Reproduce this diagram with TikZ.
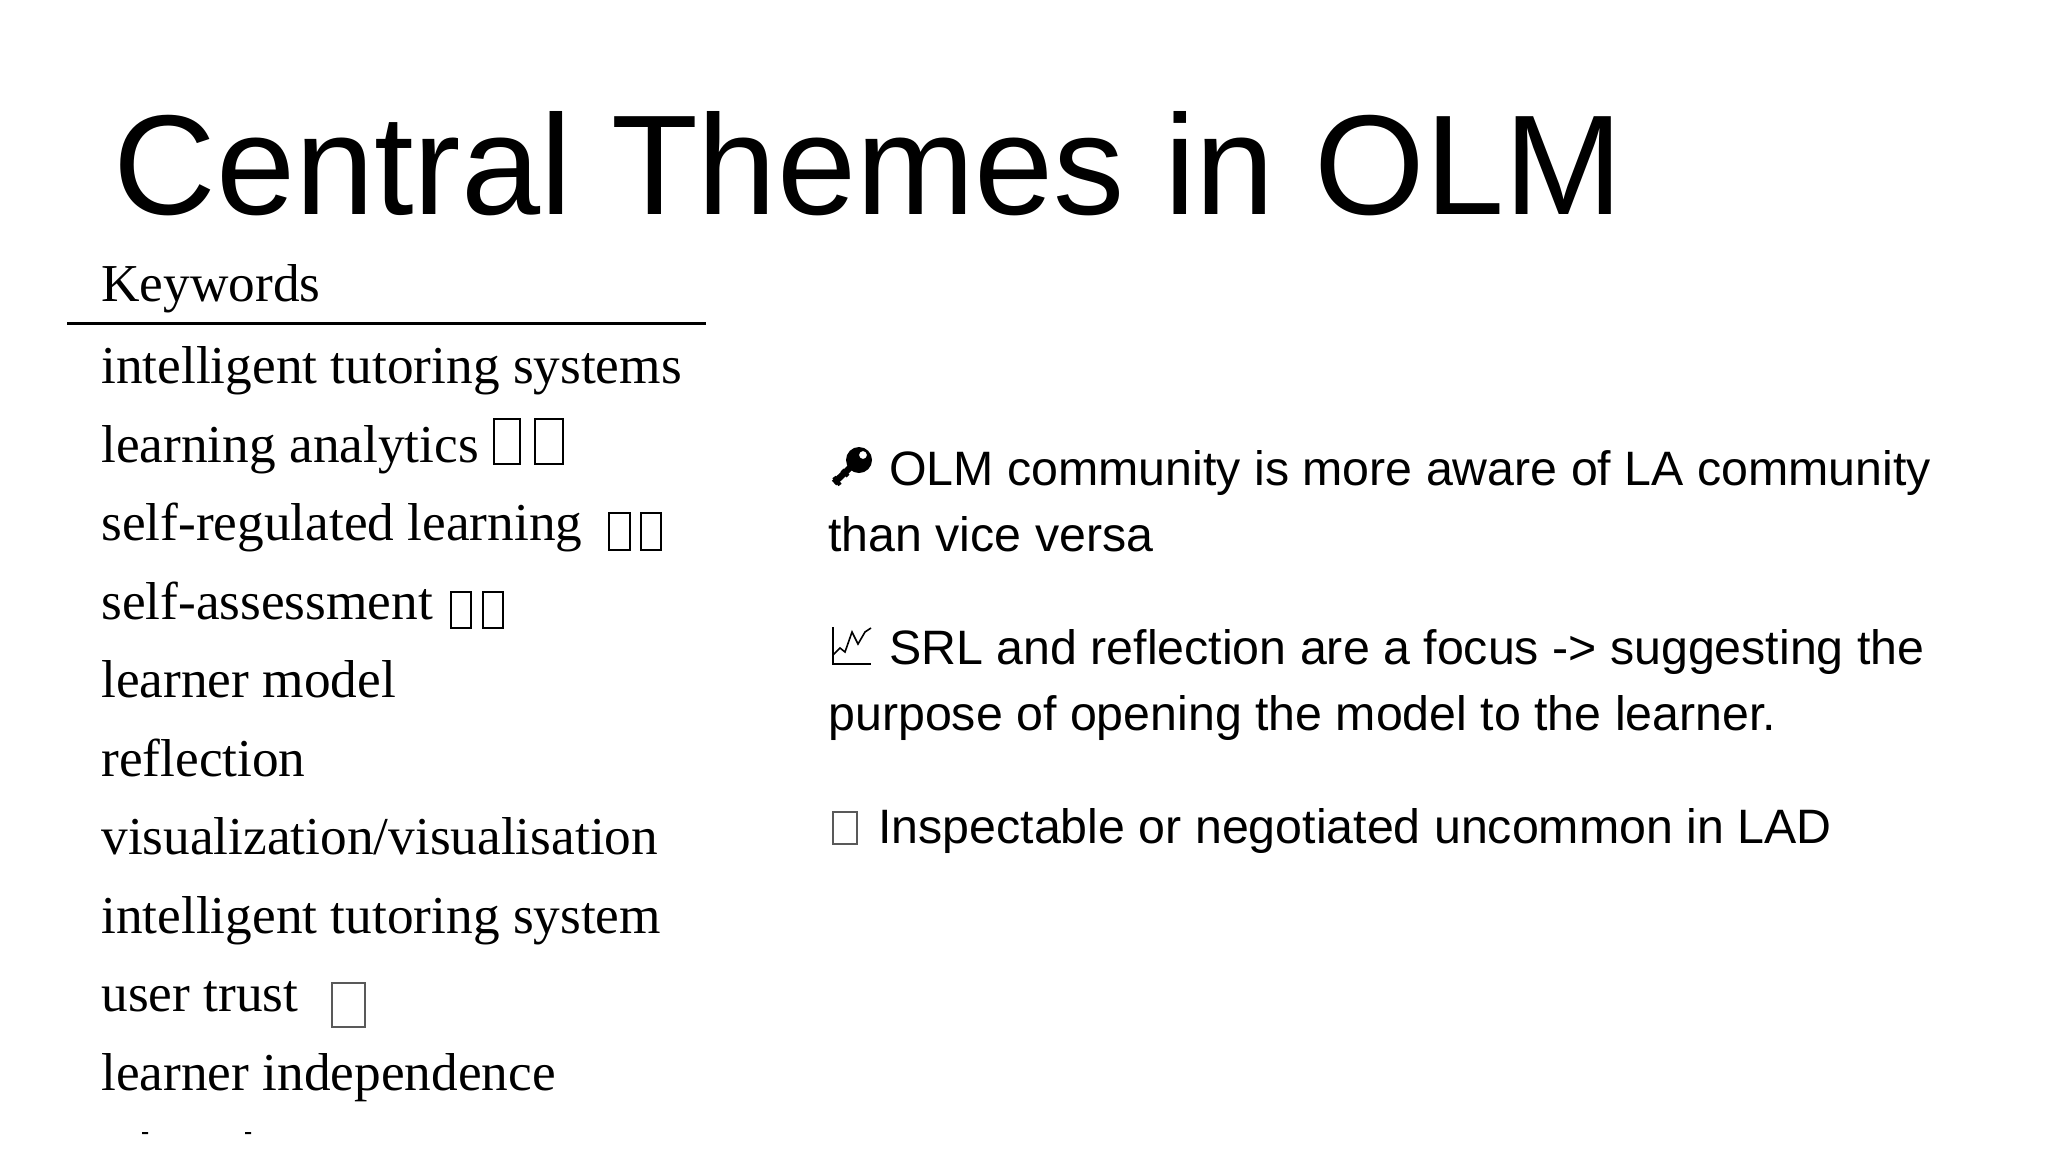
\documentclass[tikz,border=0pt]{standalone}
\usepackage{fontspec}
\setmainfont{Liberation Sans}
\newfontfamily\listfont{Liberation Serif}
\begin{document}
\begin{tikzpicture}[x=.5pt,y=-.5pt]
	\tikzset{
		title/.style={anchor=base west,inner sep=0pt,font=\fontsize{71.1}{72}\selectfont},
		keyword/.style={anchor=base west,inner sep=0pt,font=\listfont\fontsize{26.65}{27}\selectfont},
		note/.style={anchor=base west,inner sep=0pt,font=\fontsize{24.15}{25}\selectfont},
		glyphbox/.style={draw=black,line width=1.1pt},
		thinbox/.style={draw=black!65,line width=.6pt}
	}
	\useasboundingbox (0,0) rectangle (2048,1152);
	% title
	\node[title] (heading) at (113,214) {Central Themes in OLM};
	% keyword list
	\node[keyword] (keywords) at (101,301) {Keywords};
	\draw[line width=1.5pt] (67,323) -- (706,323);
	\foreach \y/\name/\word in {383.5/its/intelligent tutoring systems,462.5/la/learning analytics,540.5/srl/self-regulated learning,619.5/sa/self-assessment,697.5/lm/learner model,776.5/refl/reflection,854.5/vis/{visualization/visualisation},933.5/its2/intelligent tutoring system,1011.5/trust/user trust,1090.5/indep/learner independence}
		\node[keyword] (\name) at (101,\y) {\word};
	% missing glyphs
	\foreach \a/\b/\c/\d in {494/419/520/464,535/419/563/464,609/513/630/550,641/513/661/550,451/592/471/628,483/592/503/628}
		\draw[glyphbox] (\a,\b) rectangle (\c,\d);
	\draw[thinbox] (332,983) rectangle (365,1027);
	% cut off line
	\fill (142,1132) rectangle (148,1134) (245,1132) rectangle (251,1134);
	% notes
	\node[note] (olm) at (889,485) {OLM community is more aware of LA community};
	\node[note] (vice) at (828,551) {than vice versa};
	\node[note] (srl) at (889,664) {SRL and reflection are a focus -> suggesting the};
	\node[note] (purpose) at (828,730) {purpose of opening the model to the learner.};
	\node[note] (insp) at (878,843) {Inspectable or negotiated uncommon in LAD};
	% key
	\draw[line width=3.2pt] (834,483) -- (858,460);
	\draw[line width=2pt] (834,477) -- (840,485) (842,470) -- (848,476);
	\fill[even odd rule] (859,460) circle (13) (863,455) circle (4);
	% chart
	\draw[line width=.8pt] (833,627) -- (833,664) -- (871,664);
	\draw[line width=.8pt] (833,655) -- (840,648) -- (845,652) -- (852,632) -- (858,644) -- (865,632) -- (871,628);
	% empty box
	\draw[thinbox] (833,812) rectangle (857,844);
\end{tikzpicture}
\end{document}
